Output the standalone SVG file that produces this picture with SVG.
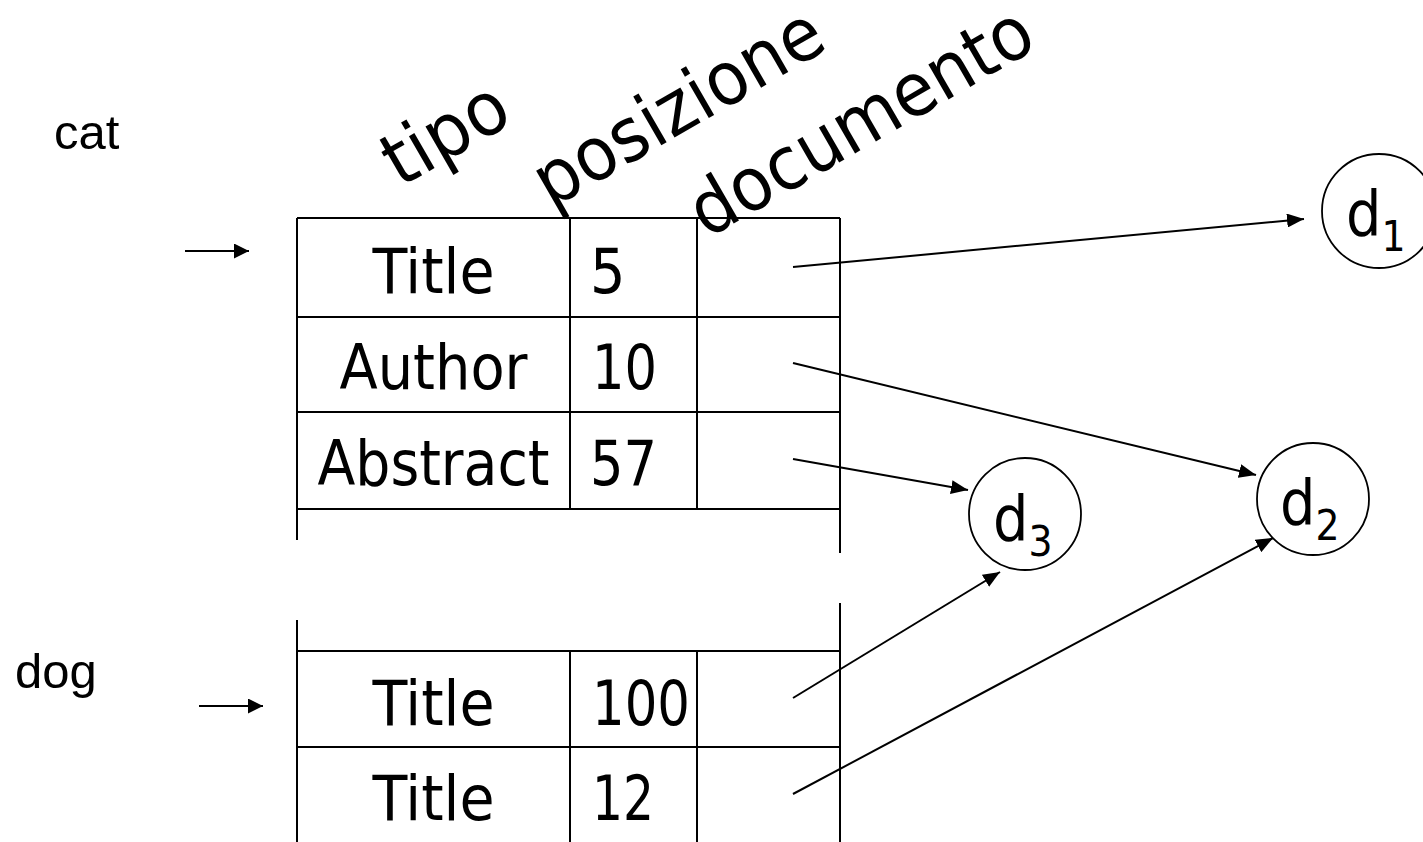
<svg xmlns="http://www.w3.org/2000/svg" width="1423" height="842" viewBox="0 0 1423 842">
<style>
.bg{fill:#fff}
.ln{stroke:#000;stroke-width:2;fill:none}
.cn{stroke:#000;stroke-width:2;fill:none}
.circ{fill:#fff;stroke:#000;stroke-width:1.8}
.t{font-family:"DejaVu Sans Condensed","DejaVu Sans",sans-serif;font-stretch:condensed;font-size:62px;fill:#000}
.hd{font-family:"DejaVu Sans Condensed","DejaVu Sans",sans-serif;font-stretch:condensed;font-size:74px;fill:#000}
.sub{font-size:42px}
.lab{font-family:"Liberation Sans",Arial,sans-serif;font-size:49px;fill:#000}
</style>
<defs>
<marker id="ah" markerUnits="userSpaceOnUse" markerWidth="18" markerHeight="14" refX="17" refY="7" orient="auto">
<path d="M0,0 L17,7 L0,14 z" fill="#000"/>
</marker>
<marker id="ahs" markerUnits="userSpaceOnUse" markerWidth="16" markerHeight="15" refX="15" refY="7.5" orient="auto">
<path d="M0,0 L15,7.5 L0,15 z" fill="#000"/>
</marker>
</defs>
<rect class="bg" x="0" y="0" width="1423" height="842"/>

<g id="labels">
<text class="lab" x="54" y="149">cat</text>
<text class="lab" x="15" y="688">dog</text>
</g>

<g id="headers">
<text class="hd" transform="translate(400,188) rotate(-30)" textLength="133" lengthAdjust="spacingAndGlyphs">tipo</text>
<text class="hd" transform="translate(551,209) rotate(-30)" textLength="322" lengthAdjust="spacingAndGlyphs">posizione</text>
<text class="hd" transform="translate(707,239) rotate(-30)" textLength="384" lengthAdjust="spacingAndGlyphs">documento</text>
</g>

<g id="table-cat">
<path class="ln" d="M297,218 H840 M297,317 H840 M297,412 H840 M297,509 H840 M297,218 V540 M840,218 V553 M570,218 V509 M697,218 V509"/>
<text class="t" x="433.5" y="293" text-anchor="middle" textLength="122" lengthAdjust="spacingAndGlyphs">Title</text>
<text class="t" x="590" y="293">5</text>
<text class="t" x="433.5" y="389" text-anchor="middle" textLength="188" lengthAdjust="spacingAndGlyphs">Author</text>
<text class="t" x="592" y="389" textLength="65" lengthAdjust="spacingAndGlyphs">10</text>
<text class="t" x="433.5" y="485" text-anchor="middle" textLength="232" lengthAdjust="spacingAndGlyphs">Abstract</text>
<text class="t" x="590" y="485" textLength="67" lengthAdjust="spacingAndGlyphs">57</text>
</g>

<g id="table-dog">
<path class="ln" d="M297,651 H840 M297,747 H840 M297,620 V842 M840,603 V842 M570,651 V842 M697,651 V842"/>
<text class="t" x="433.5" y="725" text-anchor="middle" textLength="122" lengthAdjust="spacingAndGlyphs">Title</text>
<text class="t" x="592" y="725" textLength="98" lengthAdjust="spacingAndGlyphs">100</text>
<text class="t" x="433.5" y="820" text-anchor="middle" textLength="122" lengthAdjust="spacingAndGlyphs">Title</text>
<text class="t" x="592" y="820" textLength="62" lengthAdjust="spacingAndGlyphs">12</text>
</g>

<g id="d1">
<circle class="circ" cx="1379" cy="211" r="57"/>
<text class="t" x="1346" y="235">d<tspan class="sub" dy="16">1</tspan></text>
</g>
<g id="d2">
<circle class="circ" cx="1313" cy="499" r="56"/>
<text class="t" x="1280" y="524">d<tspan class="sub" dy="16">2</tspan></text>
</g>
<g id="d3">
<circle class="circ" cx="1025" cy="514" r="56"/>
<text class="t" x="993" y="540">d<tspan class="sub" dy="16">3</tspan></text>
</g>

<g id="connectors">
<line class="cn" x1="185" y1="251" x2="249" y2="251" marker-end="url(#ahs)"/>
<line class="cn" x1="199" y1="706" x2="263" y2="706" marker-end="url(#ahs)"/>
<line class="cn" x1="793" y1="267" x2="1304" y2="219" marker-end="url(#ah)"/>
<line class="cn" x1="793" y1="363" x2="1256" y2="475" marker-end="url(#ah)"/>
<line class="cn" x1="793" y1="459" x2="968" y2="490" marker-end="url(#ah)"/>
<line class="cn" x1="793" y1="698" x2="1000" y2="572" marker-end="url(#ah)"/>
<line class="cn" x1="793" y1="794" x2="1273" y2="538" marker-end="url(#ah)"/>
</g>
</svg>
